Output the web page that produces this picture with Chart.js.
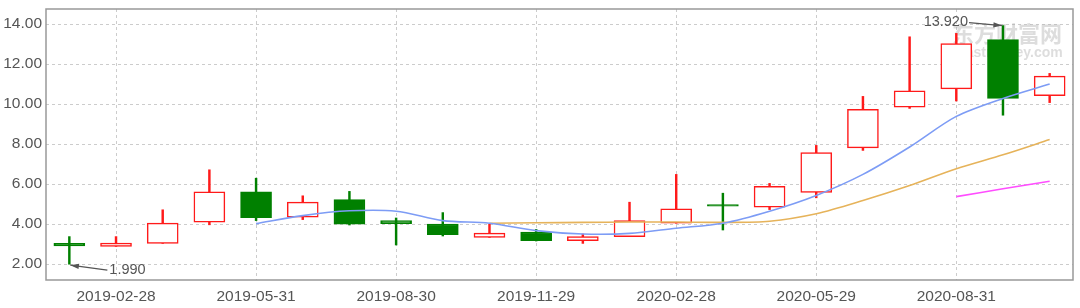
<!DOCTYPE html>
<html>
<head>
<meta charset="utf-8">
<script src="https://cdn.jsdelivr.net/npm/chart.js@4.4.0/dist/chart.umd.min.js"></script>
<style>
  html, body { margin: 0; padding: 0; background: #fff; }
  #wrap { width: 1080px; height: 308px; }
</style>
</head>
<body>
<div id="wrap"><canvas id="kline" width="1080" height="308"></canvas></div>
<script>
// monthly candles
const months = ['2019-01-31', '2019-02-28', '2019-03-29', '2019-04-30', '2019-05-31', '2019-06-28',
  '2019-07-31', '2019-08-30', '2019-09-30', '2019-10-31', '2019-11-29', '2019-12-31',
  '2020-01-23', '2020-02-28', '2020-03-31', '2020-04-30', '2020-05-29', '2020-06-30',
  '2020-07-31', '2020-08-31', '2020-09-30', '2020-10-30'];
const opens  = [3.03, 2.88, 3.03, 4.09, 5.61, 4.34, 5.22, 4.17, 4.00, 3.33, 3.60, 3.17,
  3.37, 4.04, 4.97, 4.84, 5.58, 7.81, 9.84, 10.76, 13.22, 10.42];
const closes = [2.90, 3.05, 4.04, 5.61, 4.32, 5.09, 3.99, 4.02, 3.47, 3.54, 3.17, 3.37,
  4.17, 4.76, 4.89, 5.88, 7.57, 9.73, 10.66, 13.02, 10.28, 11.39];
const highs  = [3.37, 3.37, 4.71, 6.71, 6.29, 5.41, 5.63, 4.30, 4.57, 3.99, 3.73, 3.50,
  5.09, 6.48, 5.54, 6.03, 7.93, 10.38, 13.36, 13.53, 13.92, 11.53];
const lows   = [1.99, 2.88, 3.03, 3.96, 4.17, 4.22, 3.95, 2.95, 3.40, 3.33, 3.15, 3.03,
  3.37, 4.04, 3.70, 4.72, 5.31, 7.68, 9.78, 10.15, 9.44, 10.07];
const ma5  = [null, null, null, null, 4.02, 4.42, 4.66, 4.64, 4.17, 4.04, 3.67, 3.50,
  3.53, 3.79, 4.04, 4.64, 5.43, 6.48, 7.85, 9.38, 10.28, 11.00];
const ma10 = [null, null, null, null, null, null, null, null, null, 4.04, 4.06, 4.08,
  4.10, 4.10, 4.08, 4.14, 4.51, 5.17, 5.92, 6.76, 7.46, 8.22];
const ma20 = [null, null, null, null, null, null, null, null, null, null, null, null,
  null, null, null, null, null, null, null, 5.37, 5.76, 6.14];
const yTicks = [2, 4, 6, 8, 10, 12, 14];

const RED = '#ff1a1a';
const GREEN = '#008000';
const isUp = closes.map((c, i) => c >= opens[i]);

// frame, watermark and the min/max callouts
const extras = {
  id: 'extras',
  beforeDatasetsDraw(chart) {
    const ctx = chart.ctx;
    ctx.save();
    ctx.fillStyle = 'rgba(170,170,170,0.4)';
    ctx.font = 'bold 22px "Noto Sans CJK SC"';
    ctx.textBaseline = 'middle';
    ctx.fillText('东方财富网', 952, 34);
    ctx.font = 'bold 14px "Liberation Sans"';
    ctx.fillText('eastmoney.com', 958, 53);
    ctx.restore();
  },
  afterDraw(chart) {
    const { ctx, chartArea: a, scales: { x, y } } = chart;
    ctx.save();
    ctx.strokeStyle = '#999';
    ctx.lineWidth = 1.5;
    ctx.strokeRect(a.left, a.top, a.right - a.left, a.bottom - a.top);

    const arrow = (x0, y0, x1, y1) => {
      ctx.strokeStyle = '#555';
      ctx.fillStyle = '#555';
      ctx.lineWidth = 1.2;
      ctx.beginPath(); ctx.moveTo(x0, y0); ctx.lineTo(x1, y1); ctx.stroke();
      const ang = Math.atan2(y1 - y0, x1 - x0);
      ctx.beginPath();
      ctx.moveTo(x1, y1);
      ctx.lineTo(x1 - 9 * Math.cos(ang - 0.3), y1 - 9 * Math.sin(ang - 0.3));
      ctx.lineTo(x1 - 9 * Math.cos(ang + 0.3), y1 - 9 * Math.sin(ang + 0.3));
      ctx.closePath(); ctx.fill();
    };
    ctx.font = '14.5px "Liberation Sans"';
    ctx.fillStyle = '#555';
    ctx.textBaseline = 'middle';

    const iMin = lows.indexOf(Math.min(...lows));
    const lx = x.getPixelForValue(iMin), ly = y.getPixelForValue(lows[iMin]);
    arrow(lx + 38, ly + 6, lx + 1, ly + 1);
    ctx.textAlign = 'left';
    ctx.fillText(lows[iMin].toFixed(3), lx + 40, ly + 6);

    const iMax = highs.indexOf(Math.max(...highs));
    const hx = x.getPixelForValue(iMax), hy = y.getPixelForValue(highs[iMax]);
    arrow(hx - 34, hy - 3, hx - 1, hy);
    ctx.textAlign = 'right';
    ctx.fillText(highs[iMax].toFixed(3), hx - 35, hy - 4);
    ctx.restore();
  }
};

new Chart(document.getElementById('kline'), {
  type: 'bar',
  data: {
    labels: months,
    datasets: [
      { type: 'line', data: ma5, borderColor: '#7d9cf5', borderWidth: 1.6,
        pointRadius: 0, tension: 0.3, order: 0 },
      { type: 'line', data: ma10, borderColor: '#e6b35a', borderWidth: 1.6,
        pointRadius: 0, tension: 0.3, order: 0 },
      { type: 'line', data: ma20, borderColor: '#ff4dff', borderWidth: 1.6,
        pointRadius: 0, tension: 0.3, order: 0 },
      { data: opens.map((o, i) => [o, closes[i]]), grouped: false, order: 1,
        barThickness: 31, borderSkipped: false, borderWidth: 1.5,
        backgroundColor: isUp.map(u => u ? '#ffffff' : GREEN),
        borderColor: isUp.map(u => u ? RED : GREEN) },
      { data: lows.map((l, i) => [l, highs[i]]), grouped: false, order: 2,
        barThickness: 1.8, borderWidth: 0,
        backgroundColor: isUp.map(u => u ? RED : GREEN) }
    ]
  },
  options: {
    responsive: false,
    animation: false,
    layout: { padding: { top: 9, right: 7, left: 0, bottom: 0 } },
    plugins: { legend: { display: false }, tooltip: { enabled: false } },
    scales: {
      x: {
        offset: true,
        grid: { offset: false, color: '#cccccc', drawTicks: false },
        border: { display: false, dash: [3, 3] },
        ticks: {
          autoSkip: false, maxRotation: 0, padding: 7, color: '#555',
          font: { family: 'Liberation Sans', size: 15.5 },
          callback: (v, i) => (i % 3 === 1 ? months[i] : null)
        },
        afterFit: s => { s.height = 28; s.paddingLeft = 0; s.paddingRight = 0; }
      },
      y: {
        min: 1.2, max: 14.75,
        grid: { color: '#cccccc', drawTicks: false },
        border: { display: false, dash: [3, 3] },
        afterBuildTicks: s => { s.ticks = yTicks.map(v => ({ value: v })); },
        ticks: {
          padding: 4, color: '#555',
          font: { family: 'Liberation Sans', size: 15.5 },
          callback: v => v.toFixed(2)
        },
        afterFit: s => { s.width = 46; s.paddingTop = 0; s.paddingBottom = 0; }
      }
    }
  },
  plugins: [extras]
});
</script>
</body>
</html>
